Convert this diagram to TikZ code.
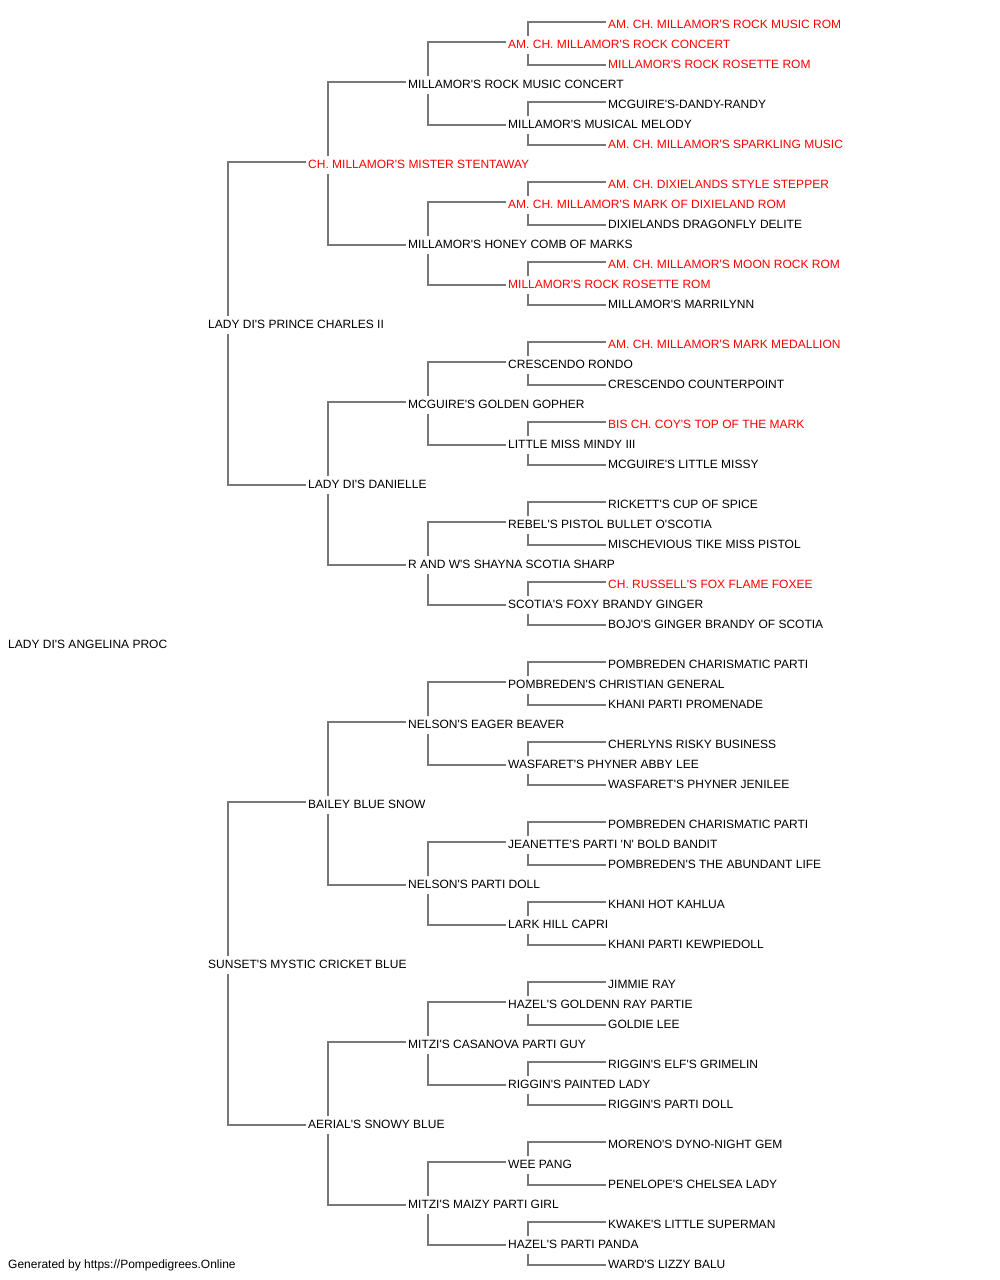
\documentclass[tikz,border=0pt]{standalone}
\usepackage[svgnames]{xcolor}
\usepackage{fontspec}
\setmainfont{Liberation Sans}[Ligatures=TeXOff]
\usepackage{tikz}
\definecolor{Line}{RGB}{119,119,119}
\tikzstyle{dog}=[inner sep=0pt,anchor=west,text height=8.6pt,text depth=0pt,font=\fontsize{12}{14}\selectfont,text=Black]
\tikzstyle{champ}=[style=dog,text=Red]
\tikzstyle{sire}=[-,draw=Line,line width=1.5,to path={([xshift=20pt,yshift=8pt]\tikztostart.west) |- ([xshift=-2pt,yshift=2pt]\tikztotarget.west)}]
\tikzstyle{dam}=[-,draw=Line,line width=1.5,to path={([xshift=20pt,yshift=-10pt]\tikztostart.west) |- ([xshift=-2pt,yshift=-1pt]\tikztotarget.west)}]

\begin{document}
\begin{tikzpicture}[x=1pt,y=-1pt]
  \useasboundingbox (0, 0) rectangle (1000, 1280);
  % generations 0 to 3
  \node [style=dog] (1) at (8, 644) {LADY DI'S ANGELINA PROC};
  \node [style=dog] (2) at (208, 324) {LADY DI'S PRINCE CHARLES II};
  \node [style=dog] (3) at (208, 964) {SUNSET'S MYSTIC CRICKET BLUE};
  \node [style=champ] (4) at (308, 164) {CH. MILLAMOR'S MISTER STENTAWAY};
  \node [style=dog] (5) at (308, 484) {LADY DI'S DANIELLE};
  \node [style=dog] (6) at (308, 804) {BAILEY BLUE SNOW};
  \node [style=dog] (7) at (308, 1124) {AERIAL'S SNOWY BLUE};
  \node [style=dog] (8) at (408, 84) {MILLAMOR'S ROCK MUSIC CONCERT};
  \node [style=dog] (9) at (408, 244) {MILLAMOR'S HONEY COMB OF MARKS};
  \node [style=dog] (10) at (408, 404) {MCGUIRE'S GOLDEN GOPHER};
  \node [style=dog] (11) at (408, 564) {R AND W'S SHAYNA SCOTIA SHARP};
  \node [style=dog] (12) at (408, 724) {NELSON'S EAGER BEAVER};
  \node [style=dog] (13) at (408, 884) {NELSON'S PARTI DOLL};
  \node [style=dog] (14) at (408, 1044) {MITZI'S CASANOVA PARTI GUY};
  \node [style=dog] (15) at (408, 1204) {MITZI'S MAIZY PARTI GIRL};
  % generation 4
  \node [style=champ] (16) at (508, 44) {AM. CH. MILLAMOR'S ROCK CONCERT};
  \node [style=dog] (17) at (508, 124) {MILLAMOR'S MUSICAL MELODY};
  \node [style=champ] (18) at (508, 204) {AM. CH. MILLAMOR'S MARK OF DIXIELAND ROM};
  \node [style=champ] (19) at (508, 284) {MILLAMOR'S ROCK ROSETTE ROM};
  \node [style=dog] (20) at (508, 364) {CRESCENDO RONDO};
  \node [style=dog] (21) at (508, 444) {LITTLE MISS MINDY III};
  \node [style=dog] (22) at (508, 524) {REBEL'S PISTOL BULLET O'SCOTIA};
  \node [style=dog] (23) at (508, 604) {SCOTIA'S FOXY BRANDY GINGER};
  \node [style=dog] (24) at (508, 684) {POMBREDEN'S CHRISTIAN GENERAL};
  \node [style=dog] (25) at (508, 764) {WASFARET'S PHYNER ABBY LEE};
  \node [style=dog] (26) at (508, 844) {JEANETTE'S PARTI 'N' BOLD BANDIT};
  \node [style=dog] (27) at (508, 924) {LARK HILL CAPRI};
  \node [style=dog] (28) at (508, 1004) {HAZEL'S GOLDENN RAY PARTIE};
  \node [style=dog] (29) at (508, 1084) {RIGGIN'S PAINTED LADY};
  \node [style=dog] (30) at (508, 1164) {WEE PANG};
  \node [style=dog] (31) at (508, 1244) {HAZEL'S PARTI PANDA};
  % generation 5
  \node [style=champ] (32) at (608, 24) {AM. CH. MILLAMOR'S ROCK MUSIC ROM};
  \node [style=champ] (33) at (608, 64) {MILLAMOR'S ROCK ROSETTE ROM};
  \node [style=dog] (34) at (608, 104) {MCGUIRE'S-DANDY-RANDY};
  \node [style=champ] (35) at (608, 144) {AM. CH. MILLAMOR'S SPARKLING MUSIC};
  \node [style=champ] (36) at (608, 184) {AM. CH. DIXIELANDS STYLE STEPPER};
  \node [style=dog] (37) at (608, 224) {DIXIELANDS DRAGONFLY DELITE};
  \node [style=champ] (38) at (608, 264) {AM. CH. MILLAMOR'S MOON ROCK ROM};
  \node [style=dog] (39) at (608, 304) {MILLAMOR'S MARRILYNN};
  \node [style=champ] (40) at (608, 344) {AM. CH. MILLAMOR'S MARK MEDALLION};
  \node [style=dog] (41) at (608, 384) {CRESCENDO COUNTERPOINT};
  \node [style=champ] (42) at (608, 424) {BIS CH. COY'S TOP OF THE MARK};
  \node [style=dog] (43) at (608, 464) {MCGUIRE'S LITTLE MISSY};
  \node [style=dog] (44) at (608, 504) {RICKETT'S CUP OF SPICE};
  \node [style=dog] (45) at (608, 544) {MISCHEVIOUS TIKE MISS PISTOL};
  \node [style=champ] (46) at (608, 584) {CH. RUSSELL'S FOX FLAME FOXEE};
  \node [style=dog] (47) at (608, 624) {BOJO'S GINGER BRANDY OF SCOTIA};
  \node [style=dog] (48) at (608, 664) {POMBREDEN CHARISMATIC PARTI};
  \node [style=dog] (49) at (608, 704) {KHANI PARTI PROMENADE};
  \node [style=dog] (50) at (608, 744) {CHERLYNS RISKY BUSINESS};
  \node [style=dog] (51) at (608, 784) {WASFARET'S PHYNER JENILEE};
  \node [style=dog] (52) at (608, 824) {POMBREDEN CHARISMATIC PARTI};
  \node [style=dog] (53) at (608, 864) {POMBREDEN'S THE ABUNDANT LIFE};
  \node [style=dog] (54) at (608, 904) {KHANI HOT KAHLUA};
  \node [style=dog] (55) at (608, 944) {KHANI PARTI KEWPIEDOLL};
  \node [style=dog] (56) at (608, 984) {JIMMIE RAY};
  \node [style=dog] (57) at (608, 1024) {GOLDIE LEE};
  \node [style=dog] (58) at (608, 1064) {RIGGIN'S ELF'S GRIMELIN};
  \node [style=dog] (59) at (608, 1104) {RIGGIN'S PARTI DOLL};
  \node [style=dog] (60) at (608, 1144) {MORENO'S DYNO-NIGHT GEM};
  \node [style=dog] (61) at (608, 1184) {PENELOPE'S CHELSEA LADY};
  \node [style=dog] (62) at (608, 1224) {KWAKE'S LITTLE SUPERMAN};
  \node [style=dog] (63) at (608, 1264) {WARD'S LIZZY BALU};
  \node [style=dog] (footer) at (8, 1264) {Generated by https://Pompedigrees.Online};
  % parents
  \draw [style=sire] (2) to (4);
  \draw [style=dam] (2) to (5);
  \draw [style=sire] (3) to (6);
  \draw [style=dam] (3) to (7);
  \draw [style=sire] (4) to (8);
  \draw [style=dam] (4) to (9);
  \draw [style=sire] (5) to (10);
  \draw [style=dam] (5) to (11);
  \draw [style=sire] (6) to (12);
  \draw [style=dam] (6) to (13);
  \draw [style=sire] (7) to (14);
  \draw [style=dam] (7) to (15);
  \draw [style=sire] (8) to (16);
  \draw [style=dam] (8) to (17);
  \draw [style=sire] (9) to (18);
  \draw [style=dam] (9) to (19);
  \draw [style=sire] (10) to (20);
  \draw [style=dam] (10) to (21);
  \draw [style=sire] (11) to (22);
  \draw [style=dam] (11) to (23);
  \draw [style=sire] (12) to (24);
  \draw [style=dam] (12) to (25);
  \draw [style=sire] (13) to (26);
  \draw [style=dam] (13) to (27);
  \draw [style=sire] (14) to (28);
  \draw [style=dam] (14) to (29);
  \draw [style=sire] (15) to (30);
  \draw [style=dam] (15) to (31);
  \draw [style=sire] (16) to (32);
  \draw [style=dam] (16) to (33);
  \draw [style=sire] (17) to (34);
  \draw [style=dam] (17) to (35);
  \draw [style=sire] (18) to (36);
  \draw [style=dam] (18) to (37);
  \draw [style=sire] (19) to (38);
  \draw [style=dam] (19) to (39);
  \draw [style=sire] (20) to (40);
  \draw [style=dam] (20) to (41);
  \draw [style=sire] (21) to (42);
  \draw [style=dam] (21) to (43);
  \draw [style=sire] (22) to (44);
  \draw [style=dam] (22) to (45);
  \draw [style=sire] (23) to (46);
  \draw [style=dam] (23) to (47);
  \draw [style=sire] (24) to (48);
  \draw [style=dam] (24) to (49);
  \draw [style=sire] (25) to (50);
  \draw [style=dam] (25) to (51);
  \draw [style=sire] (26) to (52);
  \draw [style=dam] (26) to (53);
  \draw [style=sire] (27) to (54);
  \draw [style=dam] (27) to (55);
  \draw [style=sire] (28) to (56);
  \draw [style=dam] (28) to (57);
  \draw [style=sire] (29) to (58);
  \draw [style=dam] (29) to (59);
  \draw [style=sire] (30) to (60);
  \draw [style=dam] (30) to (61);
  \draw [style=sire] (31) to (62);
  \draw [style=dam] (31) to (63);
\end{tikzpicture}
\end{document}
